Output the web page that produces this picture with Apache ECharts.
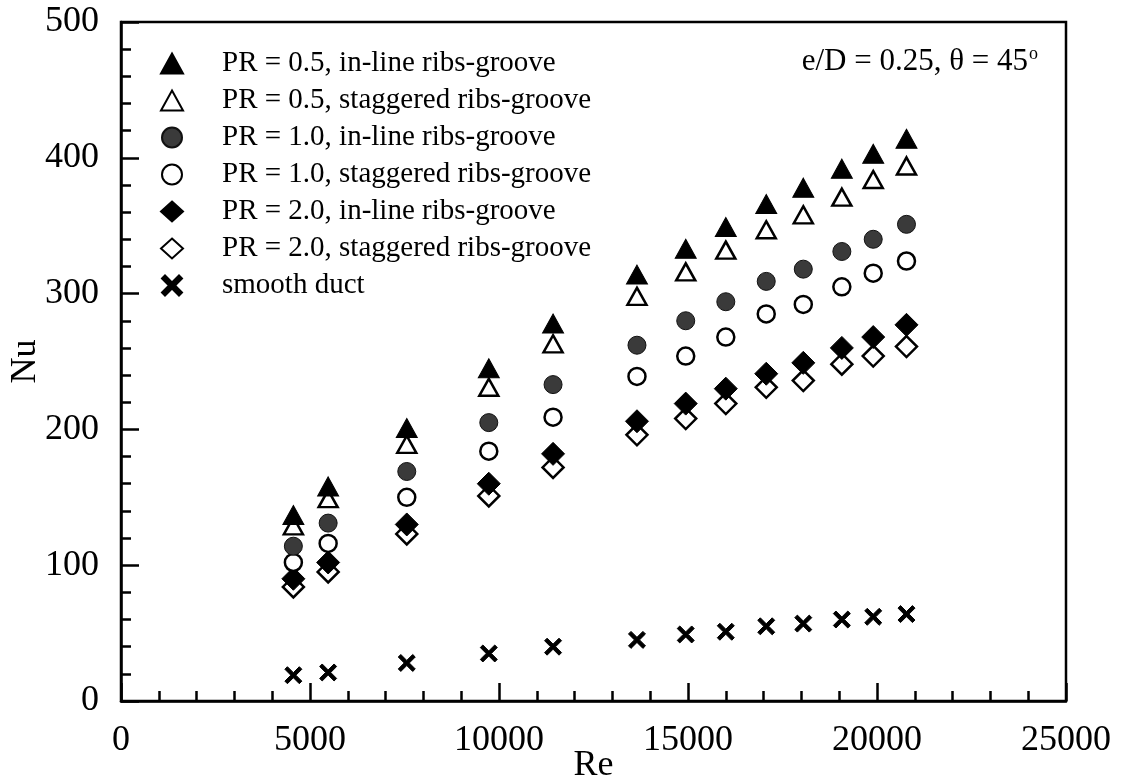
<!DOCTYPE html>
<html>
<head>
<meta charset="utf-8">
<script src="https://cdn.jsdelivr.net/npm/echarts@6/dist/echarts.min.js"></script>
<style>
  html, body { margin: 0; padding: 0; background: #fff; }
  #chart { width: 1127px; height: 779px; }
</style>
</head>
<body>
<div id="chart"></div>
<script>
// Reynolds numbers shared by every series
const re = [4560, 5480, 7560, 9730, 11430, 13650, 14940, 16000, 17070, 18050, 19070, 19900, 20780];

// Nusselt numbers per configuration
const pr05Inline    = [137, 158, 201, 245, 278, 314, 333, 349, 366, 378, 392, 403, 414];
const pr05Staggered = [129, 149, 189, 231, 263, 298, 316, 332, 347, 358, 371, 384, 394];
const pr10Inline    = [114, 131, 169, 205, 233, 262, 280, 294, 309, 318, 331, 340, 351];
const pr10Staggered = [102, 116, 150, 184, 209, 239, 254, 268, 285, 292, 305, 315, 324];
const pr20Inline    = [90, 102, 130, 160, 182, 206, 219, 230, 241, 249, 260, 268, 277];
const pr20Staggered = [84, 95, 123, 151, 172, 196, 208, 219, 231, 236, 248, 254, 261];
const smoothDuct    = [19, 21, 28, 35, 40, 45, 49, 51, 55, 57, 60, 62, 64];

const seriesNames = [
  'PR = 0.5, in-line ribs-groove',
  'PR = 0.5, staggered ribs-groove',
  'PR = 1.0, in-line ribs-groove',
  'PR = 1.0, staggered ribs-groove',
  'PR = 2.0, in-line ribs-groove',
  'PR = 2.0, staggered ribs-groove',
  'smooth duct'
];

const xTicks = [0, 5000, 10000, 15000, 20000, 25000];
const yTicks = [0, 100, 200, 300, 400, 500];

const FONT = '"Liberation Serif", "DejaVu Serif", serif';
// bold "x" marker for the smooth-duct reference points
const crossPath = 'path://M0,3 L3,0 L10,7 L17,0 L20,3 L13,10 L20,17 L17,20 L10,13 L3,20 L0,17 L7,10 Z';

const pairs = ys => re.map((x, i) => [x, ys[i]]);

const styles = [
  { data: pr05Inline,    symbol: 'triangle', size: [21, 19], fill: '#000', border: '#000' },
  { data: pr05Staggered, symbol: 'triangle', size: [19, 17], fill: '#fff', border: '#000' },
  { data: pr10Inline,    symbol: 'circle',   size: 18,       fill: '#3a3a3a', border: '#111' },
  { data: pr10Staggered, symbol: 'circle',   size: 17,       fill: '#fff', border: '#000' },
  { data: pr20Inline,    symbol: 'diamond',  size: [23, 23], fill: '#000', border: '#000' },
  { data: pr20Staggered, symbol: 'diamond',  size: [21, 21], fill: '#fff', border: '#000' },
  { data: smoothDuct,    symbol: crossPath,  size: 17,       fill: '#000', border: '#000' }
];

const series = styles.map((s, i) => ({
  name: seriesNames[i],
  type: 'scatter',
  data: pairs(s.data),
  symbol: s.symbol,
  symbolSize: s.size,
  itemStyle: {
    color: s.fill,
    borderColor: s.border,
    borderWidth: s.fill === '#fff' ? 2.5 : 1,
    opacity: 1
  },
  emphasis: { disabled: true },
  z: 10 - i
}));

const chart = echarts.init(document.getElementById('chart'), null, { renderer: 'canvas' });

chart.setOption({
  animation: false,
  backgroundColor: '#fff',
  grid: {
    left: 121, right: 61, top: 22, bottom: 78,
    containLabel: false,
    outerBoundsMode: 'none',
    show: true, borderColor: '#000', borderWidth: 2.5, backgroundColor: 'transparent'
  },
  title: {
    text: '{a|e/D = 0.25, θ = 45}{s|o}',
    right: 84, top: 40,
    textStyle: {
      fontFamily: FONT, fontSize: 31, fontWeight: 'normal', color: '#000',
      rich: {
        a: { fontFamily: FONT, fontSize: 31, fontWeight: 'normal', color: '#000' },
        s: { fontFamily: FONT, fontSize: 18, fontWeight: 'normal', color: '#000', verticalAlign: 'top', padding: [0, 0, 16, 1] }
      }
    }
  },
  legend: {
    orient: 'vertical',
    left: 155, top: 44,
    itemWidth: 22, itemHeight: 20,
    itemGap: 8,
    textStyle: { fontFamily: FONT, fontSize: 29, color: '#000', padding: [0, 0, 0, 34] },
    data: seriesNames
  },
  xAxis: {
    type: 'value',
    min: xTicks[0], max: xTicks[xTicks.length - 1], interval: xTicks[1] - xTicks[0],
    name: 'Re', nameLocation: 'middle', nameGap: 47, nameMoveOverlap: false,
    nameTextStyle: { fontFamily: FONT, fontSize: 36, color: '#000' },
    axisLine: { lineStyle: { color: '#000', width: 2.5 } },
    axisTick: { inside: true, length: 18, lineStyle: { color: '#000', width: 2.5 } },
    minorTick: { show: true, splitNumber: 5, length: 10, lineStyle: { color: '#000', width: 2.5 } },
    axisLabel: { margin: 22, fontFamily: FONT, fontSize: 36, color: '#000', formatter: v => String(v) },
    splitLine: { show: false }
  },
  yAxis: {
    type: 'value',
    min: yTicks[0], max: yTicks[yTicks.length - 1], interval: yTicks[1] - yTicks[0],
    name: 'Nu', nameLocation: 'middle', nameGap: 77, nameRotate: 90, nameMoveOverlap: false,
    nameTextStyle: { fontFamily: FONT, fontSize: 36, color: '#000' },
    axisLine: { lineStyle: { color: '#000', width: 2.5 } },
    axisTick: { inside: true, length: 18, lineStyle: { color: '#000', width: 2.5 } },
    minorTick: { show: true, splitNumber: 5, length: 10, lineStyle: { color: '#000', width: 2.5 } },
    axisLabel: { margin: 22, fontFamily: FONT, fontSize: 36, color: '#000', formatter: v => String(v) },
    splitLine: { show: false }
  },
  series: series
});
</script>
</body>
</html>
